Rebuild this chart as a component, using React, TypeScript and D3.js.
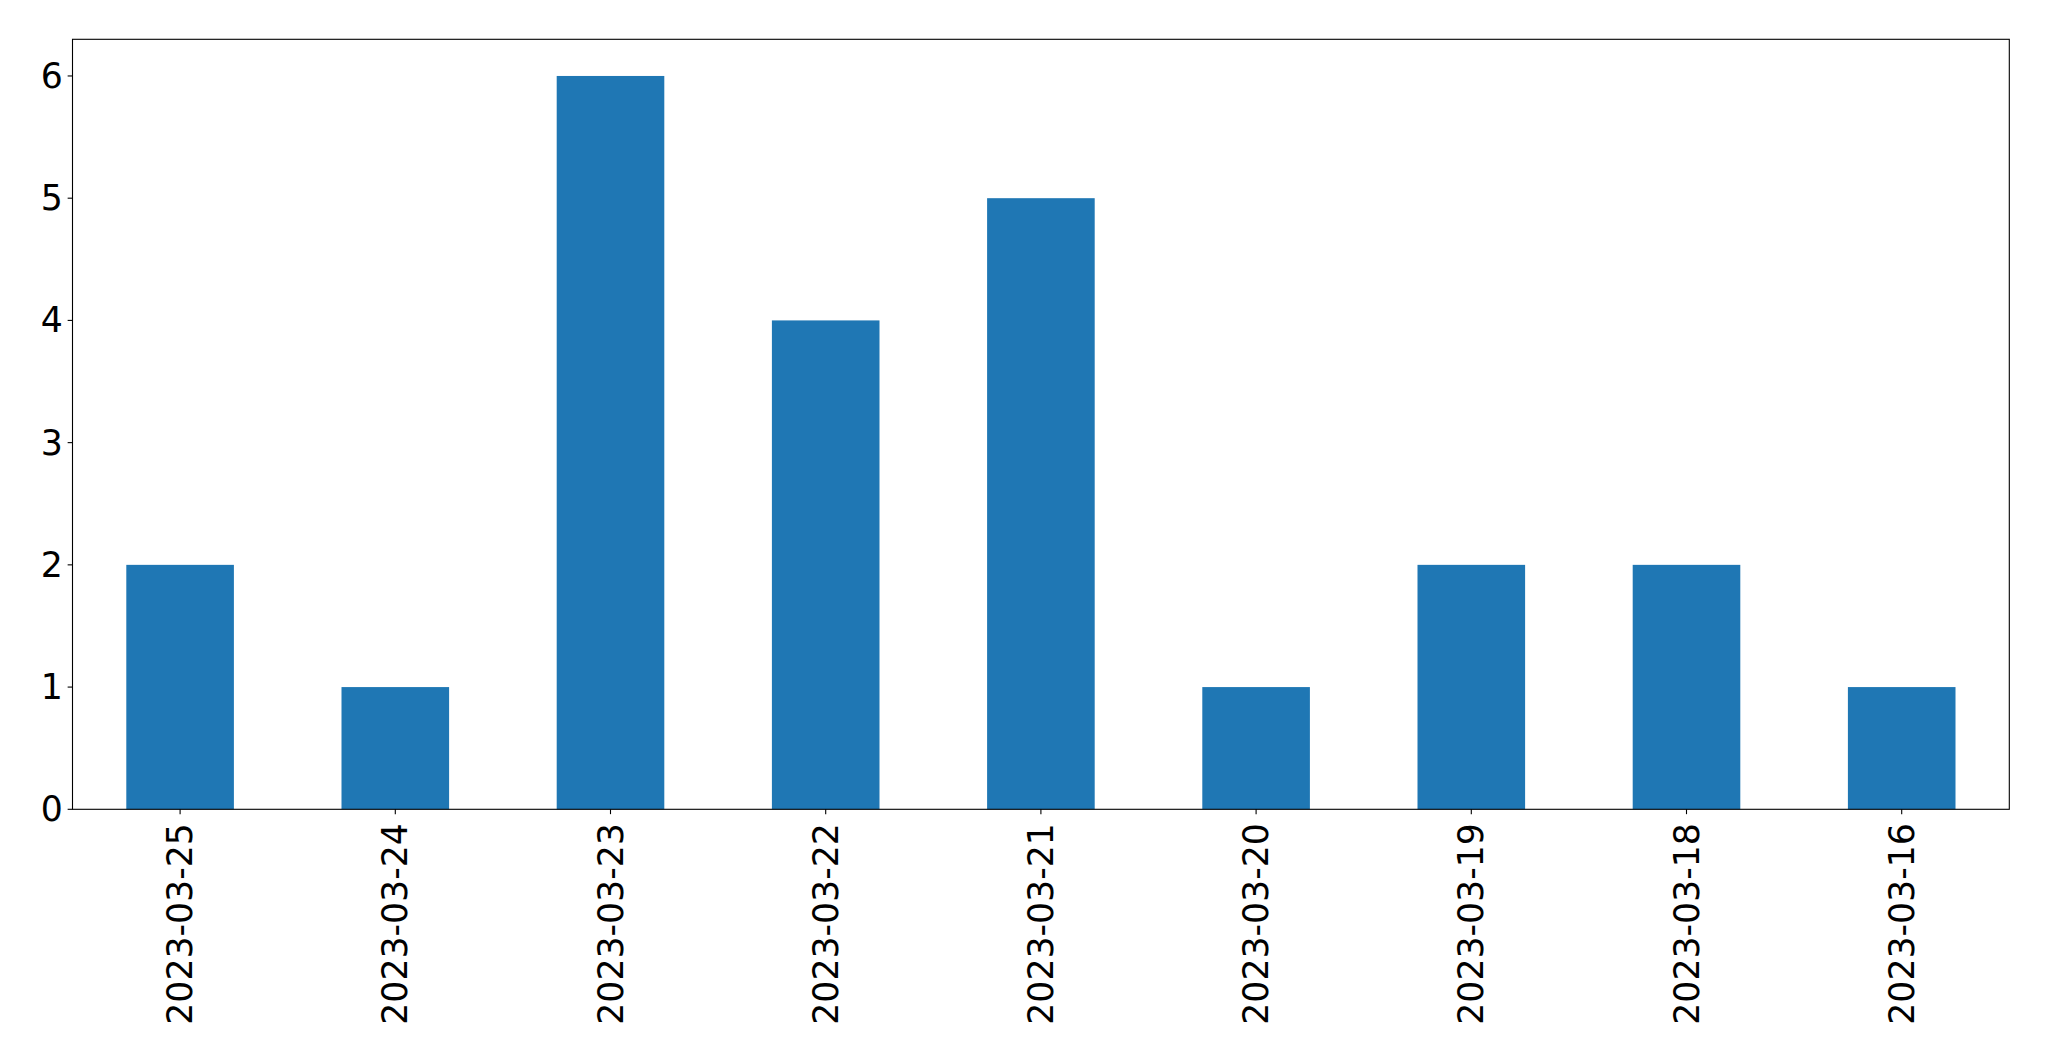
import React from "react";
import * as d3 from "d3";

const categories = ["2023-03-25", "2023-03-24", "2023-03-23", "2023-03-22", "2023-03-21", "2023-03-20", "2023-03-19", "2023-03-18", "2023-03-16"];
const values = [2, 1, 6, 4, 5, 1, 2, 2, 1];
const yTicks = [0, 1, 2, 3, 4, 5, 6];

const W = 2049;
const H = 1061;
const left = 72.5;
const right = 2009.3;
const top = 39.3;
const bottom = 809.3;
const fontSize = 34.7;
const tickLen = 4.86;
const pad = 4.86;
const xPad = 9;
const font = "DejaVu Sans";

export default function App() {
  const x = d3.scaleLinear().domain([-0.5, categories.length - 0.5]).range([left, right]);
  const y = d3.scaleLinear().domain([0, 6.3]).range([bottom, top]);
  const bw = x(0.25) - x(-0.25);
  return (
    <svg width={W} height={H} style={{ position: "absolute", left: 0, top: 0, background: "#fff" }}>
      <rect x={0} y={0} width={W} height={H} fill="#fff" />
      {values.map((v, i) => (
        <rect key={i} x={x(i) - bw / 2} y={y(v)} width={bw} height={y(0) - y(v)} fill="#1f77b4" />
      ))}
      <rect x={left} y={top} width={right - left} height={bottom - top} fill="none" stroke="#000" strokeWidth={1.1} />
      {yTicks.map((t) => (
        <g key={t}>
          <line x1={left - tickLen} x2={left} y1={y(t)} y2={y(t)} stroke="#000" strokeWidth={1.1} />
          <text x={left - tickLen - pad} y={y(t)} textAnchor="end" dominantBaseline="central" fontFamily={font} fontSize={fontSize} fill="#000">
            {t}
          </text>
        </g>
      ))}
      {categories.map((c, i) => (
        <g key={c}>
          <line x1={x(i)} x2={x(i)} y1={bottom} y2={bottom + tickLen} stroke="#000" strokeWidth={1.1} />
          <text
            transform={`translate(${x(i)},${bottom + tickLen + xPad}) rotate(-90)`}
            textAnchor="end"
            dominantBaseline="central"
            fontFamily={font}
            fontSize={fontSize}
            fill="#000"
          >
            {c}
          </text>
        </g>
      ))}
    </svg>
  );
}
